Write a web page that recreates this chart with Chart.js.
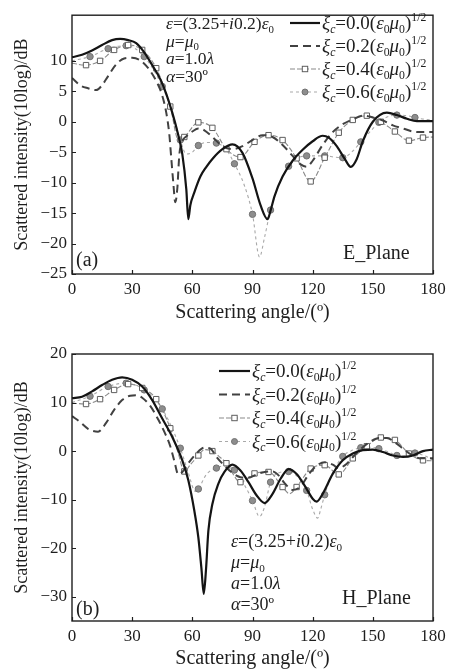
<!doctype html>
<html>
<head>
<meta charset="utf-8">
<title>Scattered intensity</title>
<script src="https://cdn.jsdelivr.net/npm/chart.js"></script>
<style>
  body { margin:0; background:#fff; width:454px; height:671px; overflow:hidden; }
  canvas { position:absolute; left:0; }
  #eChart { top:0; }
  #hChart { top:330px; }
</style>
</head>
<body>
<canvas id="eChart" width="454" height="325"></canvas>
<canvas id="hChart" width="454" height="341"></canvas>
<script>
// chirality values, in units of (eps0 mu0)^1/2
var xiValues = [0.0, 0.2, 0.4, 0.6];

// (a) E plane
var e00Ang = [0,5,10,15,20,24,28,32,36,40,44,47,50,53,55,57,58,59,61,64,67,70,75,80,85,90,94,97.5,99,101,105,110,115,120,125,128,132,136,139,142,145,150,157,162,167,172,180];
var e00Val = [10.6,11.0,11.7,12.6,13.4,13.6,13.4,12.9,11.4,9.3,7.0,4.6,1.5,-2.2,-5.3,-11.1,-16.0,-13.7,-11.6,-9.0,-7.4,-6.1,-4.5,-3.7,-5.1,-9.3,-13.7,-16.0,-14.6,-12.2,-9.0,-6.4,-4.6,-3.2,-2.3,-2.6,-4.0,-6.1,-7.4,-6.1,-3.2,0.0,1.5,1.1,0.5,0.1,0.1];
var e02Ang = [0,4,8,12,15,18,22,26,30,34,38,42,45,47,48.5,49.5,50.5,51.5,52.5,53.5,55,57,60,63,66,70,75,80,85,90,95,100,105,110,114,117,120,125,130,135,140,145,150,155,160,165,170,175,180];
var e02Val = [7.2,6.0,5.5,5.2,6.0,7.5,9.4,10.4,10.5,10.1,8.8,6.7,4.3,1.5,-2.0,-6.0,-10.0,-13.2,-11.0,-5.5,-3.2,-2.4,-1.6,-1.1,-1.4,-2.5,-4.0,-4.5,-4.0,-3.0,-2.2,-2.5,-3.8,-5.6,-7.0,-7.4,-6.4,-3.8,-1.7,-0.4,0.4,1.0,0.7,0.2,-0.6,-1.1,-1.6,-1.7,-1.7];
var e04Ang = [0,7,14,21,28,35,42,49,53,56,63,70,77,84,91,98,105,112,119,126,133,140,147,154,161,168,175,180];
var e04Val = [9.6,9.3,10.0,11.8,12.6,11.8,8.8,2.5,-2.9,-2.5,-0.1,-1.0,-4.5,-5.8,-3.3,-2.2,-3.0,-6.0,-9.8,-5.9,-1.8,0.3,1.0,0.0,-1.6,-3.1,-2.6,-2.5];
var e06Ang = [0,9,18,27,36,45,50,54,57,60,63,67,72,77,81,86,90,93.5,96,99,103,108,113,117,122,126,131,135,140,144,149,153,158,162,167,171,176,180];
var e06Val = [10.0,10.7,12.0,12.5,10.7,5.8,1.5,-3.0,-5.3,-5.0,-3.9,-3.4,-3.5,-4.6,-6.9,-10.5,-15.2,-22.2,-19.0,-14.5,-10.5,-7.3,-5.9,-5.6,-5.6,-5.6,-5.8,-5.9,-4.8,-3.3,-1.5,-0.1,0.9,1.1,1.0,0.7,0.4,0.3];

// (b) H plane
var h00Ang = [0,5,10,15,20,25,30,35,40,45,50,55,58,61,63,64.5,65.7,66.8,68,70,73,76,80,84,88,92,96,100,104,108,112,116,120,122,125,130,135,140,145,150,155,160,165,170,175,180];
var h00Val = [10.9,11.2,12.3,13.6,14.7,15.2,14.7,13.3,10.5,6.7,2.9,-1.9,-6.0,-12.3,-17.8,-24.0,-29.4,-24.5,-16.4,-10.9,-6.7,-4.3,-2.8,-4.0,-6.4,-9.1,-10.7,-8.8,-5.7,-3.7,-4.7,-7.1,-9.8,-10.4,-8.8,-4.7,-1.9,-0.5,0.2,0.3,-0.2,-0.9,-1.2,-0.9,0.0,0.3];
var h02Ang = [0,4,8,13,17,21,25,29,32,35,39,43,46,49,51,53,55,58,62,66,69,72,76,80,84,88,92,96,100,103,106,110,114,118,122,126,130,133,137,141,145,149,153,157,161,165,169,174,180];
var h02Val = [7.2,6.0,4.6,4.0,5.8,8.5,10.5,11.4,11.5,11.0,9.3,6.5,4.0,1.0,-2.0,-4.8,-4.3,-2.5,-0.5,0.7,0.5,-1.2,-3.0,-4.5,-5.4,-5.5,-4.8,-4.3,-4.2,-5.0,-6.6,-8.0,-7.3,-4.8,-3.0,-2.3,-2.8,-3.5,-2.6,-0.8,0.8,2.0,2.7,2.7,1.8,0.5,-0.7,-1.5,-1.5];
var h04Ang = [0,7,14,21,28,35,42,49,53,56,59,63,66,70,73,77,84,91,98,105,108.5,112,119,126,133,140,147,154,161,168,175,180];
var h04Val = [9.9,9.7,10.7,12.6,13.8,13.0,10.7,4.7,-0.5,-4.2,-2.8,-0.9,0.3,0.0,-1.0,-2.5,-6.4,-4.6,-4.3,-7.4,-8.8,-7.4,-3.6,-2.9,-4.8,-1.5,1.0,2.8,2.3,-0.5,-1.9,-2.0];
var h06Ang = [0,9,18,27,36,45,54,58,61.5,63,67,72,76,81,86,90,93.5,96,99,103,108,113,117,120,122.5,124,126,130,135,140,144,148,153,158,162,167,171,176,180];
var h06Val = [10.0,11.3,13.3,14.0,12.6,8.7,0.6,-4.5,-8.3,-7.8,-4.8,-3.5,-3.0,-3.9,-7.0,-10.2,-13.5,-11.5,-6.4,-4.5,-4.2,-5.5,-8.1,-12.0,-13.8,-12.0,-9.0,-4.5,-1.1,0.2,0.7,0.8,0.5,-0.2,-0.9,-1.0,-0.4,-1.0,-1.8];

var SERIF = "'Liberation Serif', 'Times New Roman', serif";
var INK = '#1e1e1e';

function pts(a, v) { return a.map(function (x, i) { return { x: x, y: v[i] }; }); }
function every(n, r) {
  return function (c) { var x = c.raw && c.raw.x; return (x > 0 && x < 180 && x % n === 0) ? r : 0; };
}

function makeSets(a0, v0, a2, v2, a4, v4, a6, v6) {
  return [
    { data: pts(a0, v0), borderColor: '#141414', borderWidth: 2.2, pointRadius: 0 },
    { data: pts(a2, v2), borderColor: '#414141', borderWidth: 2, borderDash: [8, 5], pointRadius: 0 },
    { data: pts(a4, v4), borderColor: '#8a8a8a', borderWidth: 1.1, borderDash: [5, 2],
      pointStyle: 'rect', pointRadius: every(7, 3.8), pointBackgroundColor: '#fff',
      pointBorderColor: '#5e5e5e', pointBorderWidth: 1 },
    { data: pts(a6, v6), borderColor: '#a9a9a9', borderWidth: 1.1, borderDash: [3, 3],
      pointStyle: 'circle', pointRadius: every(9, 3.2), pointBackgroundColor: '#8d8d8d',
      pointBorderColor: '#727272', pointBorderWidth: 1 }
  ];
}

// text with italic / sub / sup pieces
function rich(ctx, parts, x, y, size) {
  parts.forEach(function (p) {
    var s = (p.sub || p.sup) ? size * 0.62 : size;
    ctx.font = (p.i ? 'italic ' : '') + s + 'px ' + SERIF;
    var dy = p.sub ? size * 0.2 : (p.sup ? -size * 0.42 : 0);
    ctx.fillText(p.t, x, y + dy);
    x += ctx.measureText(p.t).width;
  });
}
function xiLabel(v) {
  return [{ t: 'ξ', i: 1 }, { t: 'c', i: 1, sub: 1 }, { t: '=' + v.toFixed(1) + '(' },
    { t: 'ε', i: 1 }, { t: '0', sub: 1 }, { t: 'μ', i: 1 }, { t: '0', sub: 1 }, { t: ')' }, { t: '1/2', sup: 1 }];
}
var paramLines = [
  [{ t: 'ε', i: 1 }, { t: '=(3.25+' }, { t: 'i', i: 1 }, { t: '0.2)' }, { t: 'ε', i: 1 }, { t: '0', sub: 1 }],
  [{ t: 'μ', i: 1 }, { t: '=' }, { t: 'μ', i: 1 }, { t: '0', sub: 1 }],
  [{ t: 'a', i: 1 }, { t: '=1.0' }, { t: 'λ', i: 1 }],
  [{ t: 'α', i: 1 }, { t: '=30º' }]
];

function drawSample(ctx, ds, x0, x1, y) {
  ctx.save();
  ctx.strokeStyle = ds.borderColor;
  ctx.lineWidth = ds.borderWidth;
  ctx.setLineDash(ds.borderDash || []);
  ctx.beginPath(); ctx.moveTo(x0, y); ctx.lineTo(x1, y); ctx.stroke();
  ctx.setLineDash([]);
  var mx = (x0 + x1) / 2;
  if (ds.pointStyle === 'rect') {
    ctx.fillStyle = '#fff'; ctx.strokeStyle = ds.pointBorderColor; ctx.lineWidth = 1;
    ctx.fillRect(mx - 2.7, y - 2.7, 5.4, 5.4); ctx.strokeRect(mx - 2.7, y - 2.7, 5.4, 5.4);
  } else if (ds.pointStyle === 'circle') {
    ctx.fillStyle = ds.pointBackgroundColor; ctx.strokeStyle = ds.pointBorderColor; ctx.lineWidth = 1;
    ctx.beginPath(); ctx.arc(mx, y, 3, 0, Math.PI * 2); ctx.fill(); ctx.stroke();
  }
  ctx.restore();
}

var framePlugin = {
  id: 'frame',
  afterDraw: function (chart) {
    var ctx = chart.ctx, a = chart.chartArea, sx = chart.scales.x, sy = chart.scales.y;
    var o = chart.options.plugins.notes;
    ctx.save();
    ctx.strokeStyle = INK; ctx.lineWidth = 1.4;
    ctx.strokeRect(a.left, a.top, a.right - a.left, a.bottom - a.top);
    ctx.lineWidth = 1.2;
    ctx.beginPath();
    sx.ticks.forEach(function (t) {
      var px = Math.round(sx.getPixelForValue(t.value)) + 0.5;
      ctx.moveTo(px, a.bottom); ctx.lineTo(px, a.bottom - 4);
    });
    sy.ticks.forEach(function (t) {
      var py = Math.round(sy.getPixelForValue(t.value)) + 0.5;
      ctx.moveTo(a.left, py); ctx.lineTo(a.left + 4, py);
    });
    ctx.stroke();

    ctx.fillStyle = INK;
    ctx.textBaseline = 'alphabetic';
    // legend
    var L = o.legend;
    chart.data.datasets.forEach(function (ds, i) {
      var by = L.y + i * L.dy;
      drawSample(ctx, ds, L.x0, L.x1, by - 6);
      ctx.fillStyle = INK;
      rich(ctx, xiLabel(xiValues[i]), L.x1 + 2, by, L.size);
    });
    // material parameters
    var P = o.params;
    paramLines.forEach(function (ln, i) { rich(ctx, ln, P.x, P.y + i * P.dy, P.size); });
    ctx.font = '20px ' + SERIF;
    ctx.fillText(o.plane.text, o.plane.x, o.plane.y);
    ctx.fillText(o.tag.text, o.tag.x, o.tag.y);
    ctx.restore();
  }
};

function makeChart(id, sets, yMin, yMax, step, topPad, xAxisH, notes) {
  return new Chart(document.getElementById(id), {
    type: 'line',
    data: { datasets: sets },
    plugins: [framePlugin],
    options: {
      responsive: false,
      animation: false,
      devicePixelRatio: 1,
      layout: { padding: { top: topPad, right: 21, left: 0, bottom: 0 } },
      elements: { line: { cubicInterpolationMode: 'monotone', fill: false } },
      plugins: { legend: { display: false }, tooltip: { enabled: false }, notes: notes },
      scales: {
        x: {
          type: 'linear', min: 0, max: 180,
          grid: { display: false, drawTicks: false }, border: { display: false },
          ticks: { stepSize: 30, padding: 5, color: INK, font: { family: SERIF, size: 17 } },
          title: { display: true, text: 'Scattering angle/(º)', color: INK,
                   font: { family: SERIF, size: 20 }, padding: { top: 0, bottom: 0 } },
          afterFit: function (s) { s.height = xAxisH; }
        },
        y: {
          min: yMin, max: yMax,
          grid: { display: false, drawTicks: false }, border: { display: false },
          afterBuildTicks: function (s) { s.ticks = s.ticks.filter(function (t) { return t.value % step === 0; }); },
          ticks: { stepSize: step, padding: 5, color: INK, font: { family: SERIF, size: 17 },
                   callback: function (v) { return String(v).replace('-', '−'); } },
          title: { display: true, text: 'Scattered intensity(10log)/dB', color: INK,
                   font: { family: SERIF, size: 18 }, padding: { top: 11, bottom: 0 } },
          afterFit: function (s) { s.width = 72; }
        }
      }
    }
  });
}

makeChart('eChart', makeSets(e00Ang, e00Val, e02Ang, e02Val, e04Ang, e04Val, e06Ang, e06Val),
  -25, 17.5, 5, 5, 51, {
    legend: { x0: 290, x1: 320, y: 29, dy: 23, size: 19 },
    params: { x: 166, y: 29, dy: 17.5, size: 17.5 },
    plane: { text: 'E_Plane', x: 343, y: 259 },
    tag: { text: '(a)', x: 76, y: 266 }
  });

makeChart('hChart', makeSets(h00Ang, h00Val, h02Ang, h02Val, h04Ang, h04Val, h06Ang, h06Val),
  -35, 20, 10, 24, 50, {
    legend: { x0: 219, x1: 250, y: 47, dy: 23.5, size: 19 },
    params: { x: 231, y: 217, dy: 21, size: 18 },
    plane: { text: 'H_Plane', x: 342, y: 274 },
    tag: { text: '(b)', x: 76, y: 285 }
  });
</script>
</body>
</html>
